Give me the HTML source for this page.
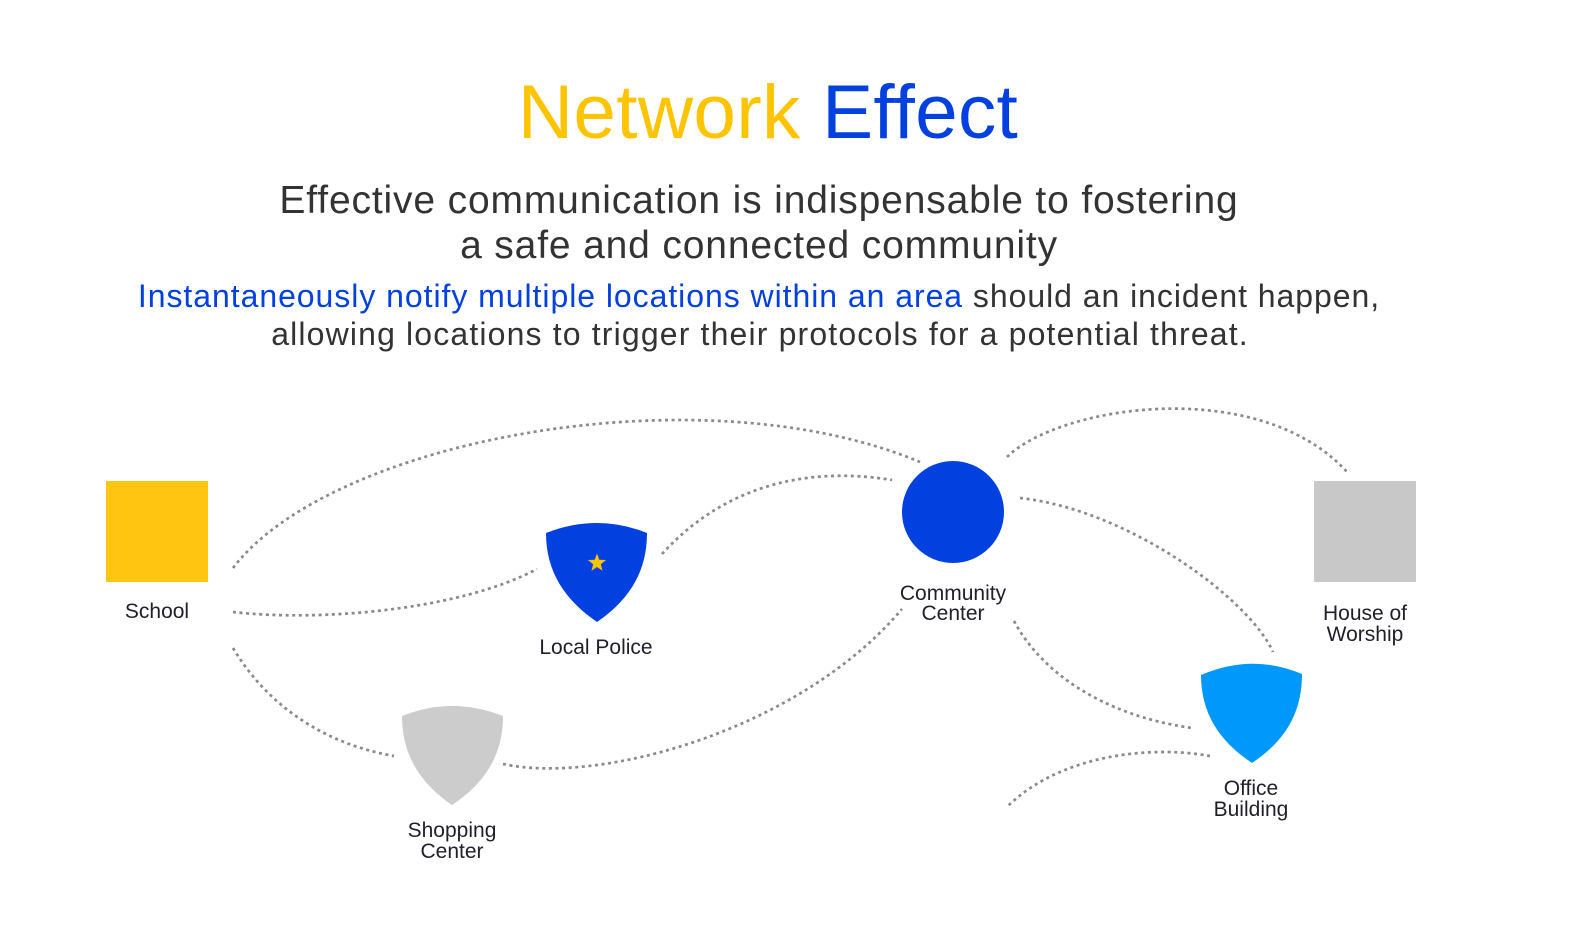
<!DOCTYPE html>
<html>
<head>
<meta charset="utf-8">
<style>
  html, body { margin: 0; padding: 0; background: #ffffff; }
  body { width: 1574px; height: 934px; overflow: hidden; }
  svg { display: block; }
  text { font-family: "Liberation Sans", Arial, sans-serif; }
</style>
</head>
<body>
<svg width="1574" height="934" viewBox="0 0 1574 934" xmlns="http://www.w3.org/2000/svg">
  <rect x="0" y="0" width="1574" height="934" fill="#ffffff"/>

  <!-- Title -->
  <text x="768" y="138" text-anchor="middle" font-size="76.5" letter-spacing="0.3"><tspan fill="#FFC400">Network</tspan> <tspan fill="#0340E0">Effect</tspan></text>

  <!-- Subtitle -->
  <text x="759" y="213" text-anchor="middle" font-size="39" letter-spacing="0.85" fill="#333333">Effective communication is indispensable to fostering</text>
  <text x="759" y="258" text-anchor="middle" font-size="39" letter-spacing="0.85" fill="#333333">a safe and connected community</text>

  <!-- Paragraph -->
  <text x="759" y="307" text-anchor="middle" font-size="32" letter-spacing="0.95" fill="#333333"><tspan fill="#0340E0">Instantaneously notify multiple locations within an area</tspan> should an incident happen,</text>
  <text x="760" y="345" text-anchor="middle" font-size="32" letter-spacing="1.15" fill="#333333">allowing locations to trigger their protocols for a potential threat.</text>

  <!-- Dotted connectors -->
  <g fill="none" stroke="#8a8a8a" stroke-width="2.7" stroke-dasharray="3 3.6">
    <path d="M233,568 C330,440 700,370 920,462"/>
    <path d="M233,612 C320,622 460,610 537,569"/>
    <path d="M233,648 C270,710 330,745 394,756"/>
    <path d="M662,554 C720,490 800,465 892,480"/>
    <path d="M503,764 C600,785 800,730 902,609"/>
    <path d="M1007,457 C1060,405 1260,375 1348,473"/>
    <path d="M1020,498 C1130,510 1250,600 1273,652"/>
    <path d="M1014,621 C1040,670 1100,715 1192,728"/>
    <path d="M1210,756 C1150,745 1060,755 1008,806"/>
  </g>

  <!-- School -->
  <rect x="106" y="481" width="102" height="101" fill="#FFC511"/>
  <text x="157" y="618" text-anchor="middle" font-size="21" fill="#1f1f2b">School</text>

  <!-- Local Police -->
  <path d="M546,533 Q597,513 647,533 C647,572 629,600 597,622 C565,600 546,572 546,533 Z" fill="#0340E0"/>
  <polygon points="597,553.5 599.35,559.76 606.03,560.06 600.8,564.24 602.58,570.69 597,567 591.42,570.69 593.2,564.24 587.97,560.06 594.65,559.76" fill="#FFC400"/>
  <text x="596" y="654" text-anchor="middle" font-size="21" fill="#1f1f2b">Local Police</text>

  <!-- Shopping Center -->
  <path d="M402,716 Q452,696 503,716 C503,755 485,783 452,805 C420,783 402,755 402,716 Z" fill="#CCCCCC"/>
  <text x="452" y="837" text-anchor="middle" font-size="21" fill="#1f1f2b">Shopping</text>
  <text x="452" y="858" text-anchor="middle" font-size="21" fill="#1f1f2b">Center</text>

  <!-- Community Center -->
  <circle cx="953" cy="512" r="51" fill="#0340E0"/>
  <text x="953" y="600" text-anchor="middle" font-size="21" fill="#1f1f2b">Community</text>
  <text x="953" y="620" text-anchor="middle" font-size="21" fill="#1f1f2b">Center</text>

  <!-- House of Worship -->
  <rect x="1314" y="481" width="102" height="101" fill="#C8C8C8"/>
  <text x="1365" y="620" text-anchor="middle" font-size="21" fill="#1f1f2b">House of</text>
  <text x="1365" y="641" text-anchor="middle" font-size="21" fill="#1f1f2b">Worship</text>

  <!-- Office Building -->
  <path d="M1201,675 Q1252,653 1302,674 C1302,713 1285,741 1252,763 C1219,741 1201,713 1201,675 Z" fill="#0098FB"/>
  <text x="1251" y="795" text-anchor="middle" font-size="21" fill="#1f1f2b">Office</text>
  <text x="1251" y="816" text-anchor="middle" font-size="21" fill="#1f1f2b">Building</text>
</svg>
</body>
</html>
